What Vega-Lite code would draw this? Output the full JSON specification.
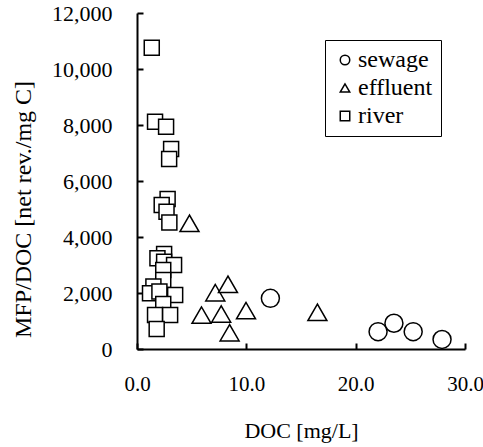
{
  "$schema": "https://vega.github.io/schema/vega-lite/v6.json",
  "width": 328,
  "height": 336,
  "autosize": {"type": "none"},
  "padding": {"left": 137, "top": 13, "right": 18, "bottom": 98},
  "background": "white",
  "config": {"view": {"stroke": null}, "font": "Liberation Serif"},
  "data": {
    "values": [
      {"DOC": 1.35, "MFP": 10760, "type": "river"},
      {"DOC": 1.65, "MFP": 8120, "type": "river"},
      {"DOC": 2.66, "MFP": 7940, "type": "river"},
      {"DOC": 3.12, "MFP": 7140, "type": "river"},
      {"DOC": 2.94, "MFP": 6790, "type": "river"},
      {"DOC": 2.8, "MFP": 5360, "type": "river"},
      {"DOC": 2.26, "MFP": 5140, "type": "river"},
      {"DOC": 2.7, "MFP": 4900, "type": "river"},
      {"DOC": 2.96, "MFP": 4520, "type": "river"},
      {"DOC": 2.48, "MFP": 3390, "type": "river"},
      {"DOC": 1.87, "MFP": 3240, "type": "river"},
      {"DOC": 2.48, "MFP": 3120, "type": "river"},
      {"DOC": 3.39, "MFP": 3000, "type": "river"},
      {"DOC": 2.4, "MFP": 2820, "type": "river"},
      {"DOC": 2.4, "MFP": 2460, "type": "river"},
      {"DOC": 1.5, "MFP": 2230, "type": "river"},
      {"DOC": 1.19, "MFP": 1990, "type": "river"},
      {"DOC": 2.05, "MFP": 2050, "type": "river"},
      {"DOC": 3.49, "MFP": 1930, "type": "river"},
      {"DOC": 2.4, "MFP": 1610, "type": "river"},
      {"DOC": 1.65, "MFP": 1210, "type": "river"},
      {"DOC": 3.03, "MFP": 1210, "type": "river"},
      {"DOC": 1.8, "MFP": 710, "type": "river"},
      {"DOC": 4.8, "MFP": 4490, "type": "effluent"},
      {"DOC": 5.9, "MFP": 1210, "type": "effluent"},
      {"DOC": 7.16, "MFP": 2010, "type": "effluent"},
      {"DOC": 8.32, "MFP": 2310, "type": "effluent"},
      {"DOC": 7.7, "MFP": 1250, "type": "effluent"},
      {"DOC": 8.47, "MFP": 580, "type": "effluent"},
      {"DOC": 9.97, "MFP": 1370, "type": "effluent"},
      {"DOC": 16.5, "MFP": 1310, "type": "effluent"},
      {"DOC": 12.2, "MFP": 1810, "type": "sewage"},
      {"DOC": 22.05, "MFP": 620, "type": "sewage"},
      {"DOC": 23.5, "MFP": 920, "type": "sewage"},
      {"DOC": 25.26, "MFP": 620, "type": "sewage"},
      {"DOC": 27.9, "MFP": 340, "type": "sewage"}
    ]
  },
  "encoding": {
    "x": {
      "field": "DOC", "type": "quantitative",
      "scale": {"domain": [0, 30], "nice": false, "zero": false},
      "axis": {
        "title": "DOC [mg/L]", "values": [0, 10, 20, 30], "format": ".1f", "grid": false,
        "domainColor": "black", "domainWidth": 2, "tickColor": "black", "tickWidth": 2, "tickSize": -6,
        "labelPadding": 30, "labelFontSize": 21, "labelColor": "black", "labelFlush": false, "labelFont": "Liberation Serif", "labelDx": -4,
        "titleFontSize": 22, "titleFontWeight": "normal", "titleColor": "black", "titleFont": "Liberation Serif",
        "titleY": 88, "titleBaseline": "alphabetic"
      }
    },
    "y": {
      "field": "MFP", "type": "quantitative",
      "scale": {"domain": [0, 12000], "nice": false},
      "axis": {
        "title": "MFP/DOC [net rev./mg C]", "values": [0, 2000, 4000, 6000, 8000, 10000, 12000], "format": ",.0f", "grid": false,
        "domainColor": "black", "domainWidth": 2, "tickColor": "black", "tickWidth": 2, "tickSize": -6,
        "labelPadding": 31, "labelFontSize": 22, "labelColor": "black", "labelFlush": false, "labelFont": "Liberation Serif", "labelDy": 2,
        "titleFontSize": 24, "titleFontWeight": "normal", "titleColor": "black", "titleFont": "Liberation Serif",
        "titleX": -107, "titleY": 196, "titleAngle": -90, "titleAlign": "center", "titleBaseline": "alphabetic"
      }
    },
    "shape": {
      "field": "type", "type": "nominal",
      "scale": {"domain": ["sewage", "effluent", "river"], "range": ["circle", "triangle-up", "square"]},
      "legend": {
        "title": null, "orient": "none", "legendX": 188, "legendY": 27,
        "strokeColor": "black", "padding": 8, "fillColor": "white",
        "labelFontSize": 24, "labelColor": "black", "labelFont": "Liberation Serif", "labelOffset": 1,
        "symbolSize": 90, "rowPadding": 4,
        "encode": {
          "symbols": {
            "update": {
              "fill": {"value": "white"},
              "stroke": {"value": "black"},
              "strokeWidth": {"value": 1.5},
              "opacity": {"value": 1},
              "size": {"value": 90}
            }
          }
        }
      }
    }
  },
  "layer": [
    {
      "transform": [{"filter": "datum.type === 'river'"}],
      "mark": {"type": "point", "filled": true, "fill": "white", "stroke": "black", "strokeWidth": 1.5, "opacity": 1, "size": 225}
    },
    {
      "transform": [{"filter": "datum.type === 'effluent'"}],
      "mark": {"type": "point", "filled": true, "fill": "white", "stroke": "black", "strokeWidth": 1.5, "opacity": 1, "size": 361}
    },
    {
      "transform": [{"filter": "datum.type === 'sewage'"}],
      "mark": {"type": "point", "filled": true, "fill": "white", "stroke": "black", "strokeWidth": 1.5, "opacity": 1, "size": 324}
    }
  ]
}
